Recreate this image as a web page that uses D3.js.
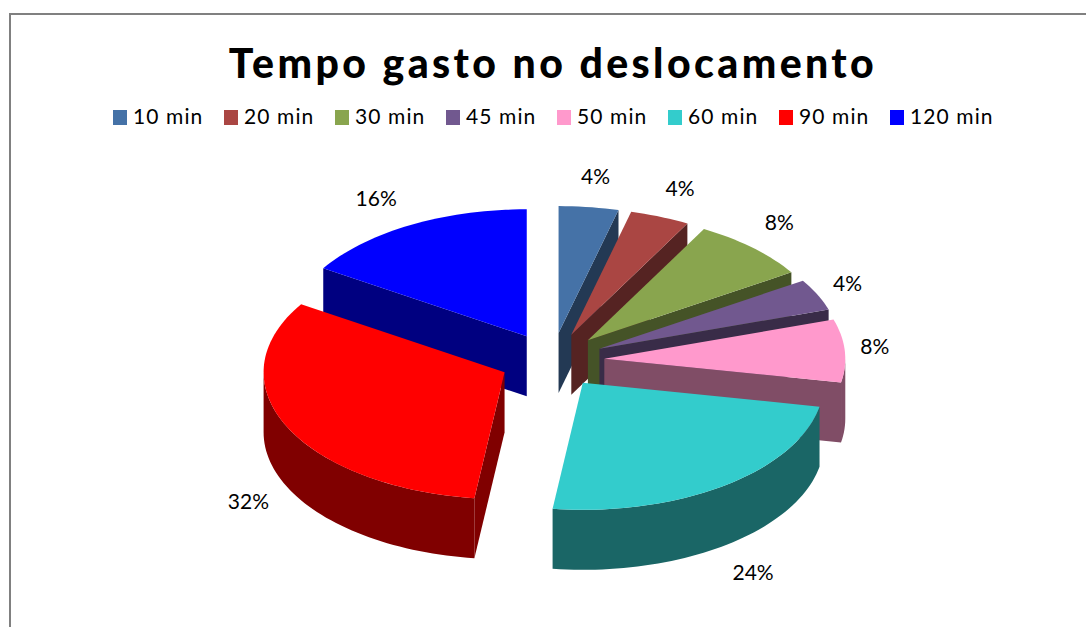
<!DOCTYPE html>
<html>
<head>
<meta charset="utf-8">
<script src="https://cdn.jsdelivr.net/npm/d3@7"></script>
<style>
  html, body { margin: 0; background: #fff; overflow: hidden; }
  text { font-family: Lato, "Open Sans", sans-serif; fill: #000; }
</style>
</head>
<body>
<svg id="chart" width="1086" height="627"></svg>
<script>
const categories = ['10 min', '20 min', '30 min', '45 min', '50 min', '60 min', '90 min', '120 min'];
const shares = [4, 4, 8, 4, 8, 24, 32, 16];
const colors = ['#4572A7', '#AA4643', '#89A54E', '#71588F', '#FF99CC', '#33CCCC', '#FF0000', '#0000FF'];
const chartTitle = 'Tempo gasto no deslocamento';

const config = {
  cx: 552, cy: 360.5, rx: 241, ry: 127,
  depth: 60,
  explode: 0.2174,
  labelPad: 30,
  // hand adjustments per label, in pie order
  labelDx: [3, 9, 6, 3, 0, 11, -11, -20],
  labelDy: [0, 0, -3, 2, -2, 3, 3, 0]
};

const svg = d3.select('#chart');

// chart frame, only the top and left edges show in the crop
svg.append('path')
    .attr('d', 'M1086,14H10V627')
    .attr('fill', 'none')
    .attr('stroke', '#808080')
    .attr('stroke-width', 2);

svg.append('text')
    .attr('x', 553)
    .attr('y', 78)
    .attr('text-anchor', 'middle')
    .attr('font-size', 41)
    .attr('font-weight', 900)
    .attr('letter-spacing', 3.4)
    .text(chartTitle);

// Legend
const legendX = d3.scalePoint().domain(categories).range([113, 890]);
const legend = svg.selectAll('.legend-item')
    .data(categories)
  .join('g')
    .attr('class', 'legend-item')
    .attr('transform', d => `translate(${legendX(d)},110)`);

legend.append('rect')
    .attr('width', 14)
    .attr('height', 15)
    .attr('fill', (d, i) => colors[i]);

legend.append('text')
    .attr('x', 20)
    .attr('y', 14)
    .attr('font-size', 21)
    .attr('letter-spacing', 1.1)
    .text(d => d);

// Pie angles: 0 at the top, going clockwise
const pie = d3.pie().sort(null).value(d => d.value);
const slices = pie(shares.map((value, i) => ({value, color: colors[i]})));

// Flattened projection of the unit circle, this is the 3D tilt
const xScale = d3.scaleLinear().domain([-1, 1]).range([config.cx - config.rx, config.cx + config.rx]);
const yScale = d3.scaleLinear().domain([-1, 1]).range([config.cy - config.ry, config.cy + config.ry]);

const pointOn = (s, angle, radius) => {
  const mid = (s.startAngle + s.endAngle) / 2;
  const ux = radius * Math.sin(angle) + config.explode * Math.sin(mid);
  const uy = -radius * Math.cos(angle) - config.explode * Math.cos(mid);
  return [xScale(ux), yScale(uy)];
};

const sampleArc = (s, a0, a1, radius) => {
  const n = Math.max(2, Math.ceil((a1 - a0) / 0.03));
  return d3.range(n + 1).map(i => pointOn(s, a0 + (a1 - a0) * i / n, radius));
};

const drop = pts => pts.map(p => [p[0], p[1] + config.depth]);
const line = d3.line();
const wallColor = c => {
  const rgb = d3.rgb(c);
  return d3.rgb(rgb.r / 2, rgb.g / 2, rgb.b / 2).formatHex();
};

// Painter's order: slices at the back of the pie go first
const ordered = slices.slice().sort((a, b) =>
  Math.cos((b.startAngle + b.endAngle) / 2) - Math.cos((a.startAngle + a.endAngle) / 2));

ordered.forEach(s => {
  const g = svg.append('g').attr('class', 'slice');
  const top = sampleArc(s, s.startAngle, s.endAngle, 1);
  const apex = pointOn(s, 0, 0);
  const wall = wallColor(s.data.color);

  // Radial walls, drawn only when they face the viewer
  const radialWall = angle => {
    const rim = pointOn(s, angle, 1);
    const pts = [apex, rim, [rim[0], rim[1] + config.depth], [apex[0], apex[1] + config.depth]];
    g.append('path').attr('d', line(pts) + 'Z').attr('fill', wall);
  };
  if (Math.sin(s.endAngle) > 0) radialWall(s.endAngle);
  if (Math.sin(s.startAngle) < 0) radialWall(s.startAngle);

  // Outer wall, the front half of the rim only
  const a0 = Math.max(s.startAngle, Math.PI / 2);
  const a1 = Math.min(s.endAngle, Math.PI * 1.5);
  if (a1 > a0) {
    const rim = sampleArc(s, a0, a1, 1);
    g.append('path')
        .attr('d', line(rim.concat(drop(rim).reverse())) + 'Z')
        .attr('fill', wall);
  }

  g.append('path')
      .attr('d', line([apex].concat(top)) + 'Z')
      .attr('fill', s.data.color);
});

// Percent labels sit just off the rim, front ones below the wall
svg.selectAll('.pct-label')
    .data(slices)
  .join('text')
    .attr('class', 'pct-label')
    .attr('text-anchor', 'middle')
    .attr('font-size', 21)
    .attr('x', s => {
      const mid = (s.startAngle + s.endAngle) / 2;
      return pointOn(s, mid, 1)[0] + config.labelPad * Math.sin(mid) + config.labelDx[s.index];
    })
    .attr('y', s => {
      const mid = (s.startAngle + s.endAngle) / 2;
      const below = Math.cos(mid) < 0 ? config.depth : 0;
      return pointOn(s, mid, 1)[1] - config.labelPad * Math.cos(mid) + below + 7 + config.labelDy[s.index];
    })
    .text(s => `${s.data.value}%`);
</script>
</body>
</html>
